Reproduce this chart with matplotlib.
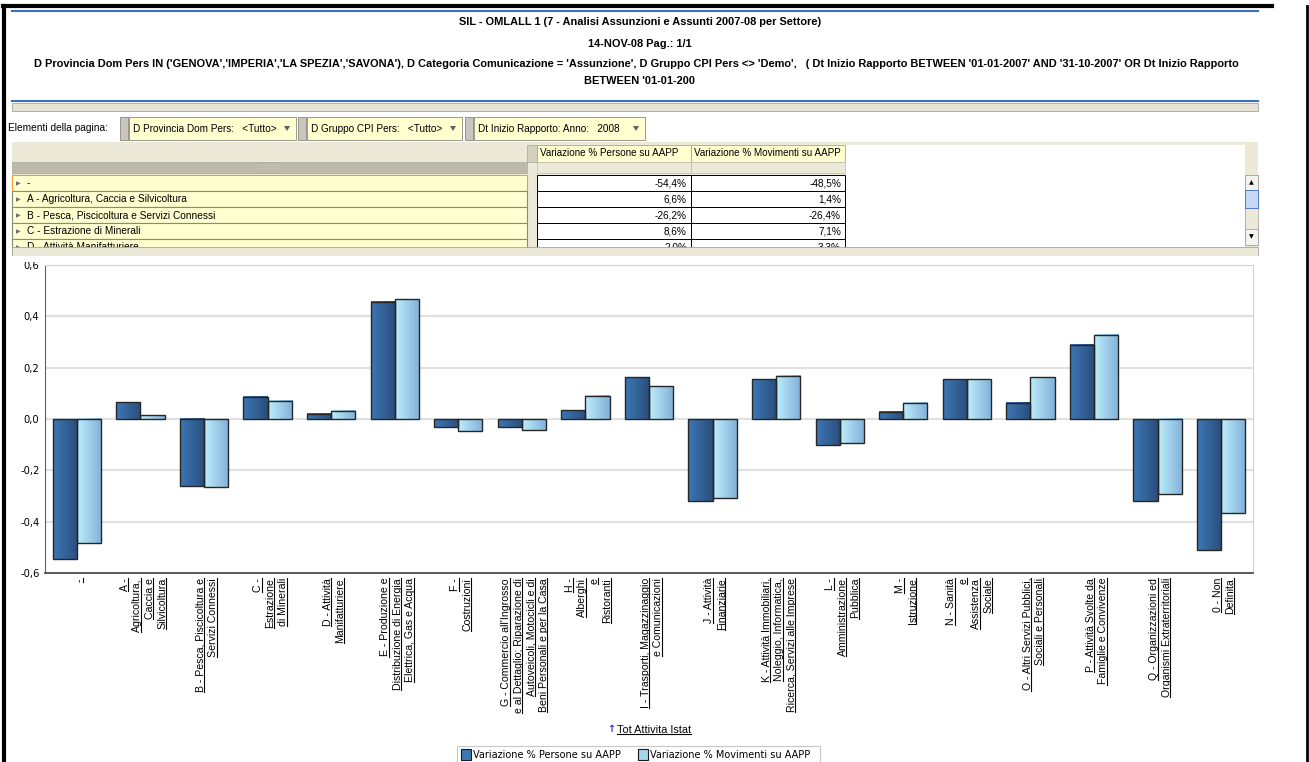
import matplotlib
matplotlib.use("Agg")
import matplotlib.pyplot as plt
import numpy as np
from matplotlib.patches import Rectangle, Polygon
from matplotlib.lines import Line2D
from matplotlib import transforms

# data
categories = [
    "-",
    "A -\nAgricoltura,\nCaccia e\nSilvicoltura",
    "B - Pesca, Piscicoltura e\nServizi Connessi",
    "C -\nEstrazione\ndi Minerali",
    "D - Attività\nManifatturiere",
    "E - Produzione e\nDistribuzione di Energia\nElettrica, Gas e Acqua",
    "F -\nCostruzioni",
    "G - Commercio all'Ingrosso\ne al Dettaglio; Riparazione di\nAutoveicoli, Motocicli e di\nBeni Personali e per la Casa",
    "H -\nAlberghi\ne\nRistoranti",
    "I - Trasporti, Magazzinaggio\ne Comunicazioni",
    "J - Attività\nFinanziarie",
    "K - Attività Immobiliari,\nNoleggio, Informatica,\nRicerca, Servizi alle Imprese",
    "L -\nAmministrazione\nPubblica",
    "M -\nIstruzione",
    "N - Sanità\ne\nAssistenza\nSociale",
    "O - Altri Servizi Pubblici,\nSociali e Personali",
    "P - Attività Svolte da\nFamiglie e Convivenze",
    "Q - Organizzazioni ed\nOrganismi Extraterritoriali",
    "0 - Non\nDefinita",
]
persone = [-0.544, 0.066, -0.262, 0.086, 0.020, 0.456, -0.031, -0.031, 0.035, 0.163,
           -0.319, 0.155, -0.101, 0.028, 0.155, 0.063, 0.289, -0.319, -0.510]
movimenti = [-0.485, 0.014, -0.264, 0.071, 0.033, 0.466, -0.045, -0.042, 0.091, 0.128,
             -0.307, 0.168, -0.093, 0.063, 0.155, 0.163, 0.328, -0.294, -0.365]
series_names = ["Variazione % Persone su AAPP", "Variazione % Movimenti su AAPP"]
table_rows = ["-", "A - Agricoltura, Caccia e Silvicoltura", "B - Pesca, Piscicoltura e Servizi Connessi",
              "C - Estrazione di Minerali", "D - Attività Manifatturiere"]
yticks = [-0.6, -0.4, -0.2, 0.0, 0.2, 0.4, 0.6]

W, H = 1309, 762
fig = plt.figure(figsize=(W / 100, H / 100), dpi=100)
fig.patch.set_facecolor("white")


def fx(x):
    return x / W


def fy(y):
    return 1 - y / H


def rect(x0, y0, x1, y1, fc, ec="none", lw=0.8, z=1):
    fig.add_artist(Rectangle((fx(x0), fy(y1)), (x1 - x0) / W, (y1 - y0) / H,
                             transform=fig.transFigure, fc=fc, ec=ec, lw=lw, zorder=z))


def line(x0, y0, x1, y1, c, lw=1, z=2):
    fig.add_artist(Line2D([fx(x0), fx(x1)], [fy(y0), fy(y1)], transform=fig.transFigure,
                          color=c, lw=lw, zorder=z))


def txt(x, y, s, **kw):
    kw.setdefault("family", "Liberation Sans")
    return fig.text(fx(x), fy(y), s, **kw)


# outer frame
line(3, 6, 1272, 6, "black", lw=3, z=5)
line(4, 6, 4, 762, "black", lw=3, z=5)
line(1307, 6, 1307, 762, "black", lw=2, z=5)

# report header
line(12, 11, 1258, 11, "#3a6fc4", lw=1.5)
hdr = dict(ha="center", va="center", fontsize=7.9, weight="bold")
txt(640, 22, "SIL - OMLALL 1 (7 - Analisi Assunzioni e Assunti 2007-08 per Settore)", **hdr)
txt(640, 44, "14-NOV-08 Pag.: 1/1", **hdr)
txt(636, 64, "D Provincia Dom Pers IN ('GENOVA','IMPERIA','LA SPEZIA','SAVONA'), D Categoria Comunicazione = "
    "'Assunzione', D Gruppo CPI Pers <> 'Demo',   ( Dt Inizio Rapporto BETWEEN '01-01-2007' AND "
    "'31-10-2007' OR Dt Inizio Rapporto", **hdr)
txt(640, 81, "BETWEEN '01-01-200", **hdr)
line(12, 101, 1258, 101, "#3a6fc4", lw=1.5)
rect(12, 103, 1258, 111, "#e6e3d6", ec="#a8a698", lw=0.6)

# page elements bar
txt(8, 128, "Elementi della pagina:", ha="left", va="center", fontsize=7.3)
for hx, x0, x1, label in [(120, 129, 296, "D Provincia Dom Pers:   <Tutto>"),
                          (298, 307, 462, "D Gruppo CPI Pers:   <Tutto>"),
                          (465, 474, 645, "Dt Inizio Rapporto: Anno:   2008")]:
    rect(hx, 117, hx + 8, 140, "#c8c6bc", ec="#8a8880", lw=0.6, z=2)
    rect(x0, 117, x1, 140, "#ffffd0", ec="#8a8880", lw=0.6, z=2)
    txt(x0 + 4, 128.5, label, ha="left", va="center", fontsize=7.2, zorder=3)
    fig.add_artist(Polygon([[fx(x1 - 12), fy(126)], [fx(x1 - 6), fy(126)], [fx(x1 - 9), fy(131)]],
                           closed=True, transform=fig.transFigure, fc="#606060", ec="none", zorder=3))

# pivot table
rect(12, 142, 1258, 248, "#ece9d8", z=1)
rect(845, 145, 1245, 247, "white", z=2)
rect(527, 145, 537, 162, "#d4d0c0", ec="#a8a698", lw=0.5, z=2)
for i, name in enumerate(series_names):
    x0 = 537 + i * 154
    rect(x0, 145, x0 + 154, 162, "#ffffd0", ec="#a8a698", lw=0.6, z=2)
    txt(x0 + 3, 153.5, name, ha="left", va="center", fontsize=7.1, zorder=3)
    rect(x0, 162, x0 + 154, 173, "#ece9d8", ec="#c0bdb0", lw=0.5, z=2)
rect(12, 162, 527, 173, "#bdbaaa", ec="#a8a698", lw=0.5, z=2)
txt(270, 167.5, "::::::::::", ha="center", va="center", fontsize=5, color="#e0e0e0", zorder=3)
row_y = [175, 191, 207, 223, 239]
for i, name in enumerate(table_rows):
    y0 = row_y[i]
    y1 = y0 + 16
    ec = "#f0a020" if i == 0 else "#8a8880"
    rect(12, y0, 527, y1, "#ffffd0", ec=ec, lw=0.8, z=2)
    txt(16, y0 + 8.5, "▶", ha="left", va="center", fontsize=4.5, color="#707070", family="DejaVu Sans", zorder=3)
    txt(27, y0 + 8.5, name, ha="left", va="center", fontsize=7.3, zorder=3)
    for j, vals in enumerate([persone, movimenti]):
        x0 = 537 + j * 154
        rect(x0, y0, x0 + 154, y1, "white", ec="black", lw=0.7, z=2)
        s = f"{vals[i] * 100:.1f}%".replace(".", ",")
        txt(x0 + 150, y0 + 8.5, s, ha="right", va="center", fontsize=7.2, zorder=3)
rect(12, 247, 1258, 256, "#ece9d8", ec="#a8a698", lw=0.6, z=4)
rect(0, 256, 1300, 262, "white", z=4)
# scrollbar
rect(1245, 175, 1258, 245, "#ece9d8", ec="#9a9a9a", lw=0.5, z=3)
rect(1245, 175, 1258, 190, "#f4f3ee", ec="#9a9a9a", lw=0.5, z=3)
rect(1245, 190, 1258, 208, "#c6d8f4", ec="#3a6fc4", lw=0.6, z=3)
rect(1245, 229, 1258, 245, "#f4f3ee", ec="#9a9a9a", lw=0.5, z=3)
txt(1251.5, 182.5, "▲", ha="center", va="center", fontsize=4.5, family="DejaVu Sans", zorder=4)
txt(1251.5, 237, "▼", ha="center", va="center", fontsize=4.5, family="DejaVu Sans", zorder=4)

# chart
ax = fig.add_axes([fx(45), fy(573), (1253 - 45) / W, (573 - 265) / H])
n = len(categories)
x = np.arange(n)
w = 0.38
grads = [("#3d78b5", "#2a4d7c"), ("#bdeefb", "#82b0da")]
for k, vals in enumerate([persone, movimenti]):
    bars = ax.bar(x + (k - 0.5) * w, vals, w, fill=False, edgecolor="#262626", lw=1.0, zorder=4)
    c0 = np.array(matplotlib.colors.to_rgb(grads[k][0]))
    c1 = np.array(matplotlib.colors.to_rgb(grads[k][1]))
    t = np.linspace(0, 1, 64)[None, :, None]
    img = c0 * (1 - t) + c1 * t
    for b in bars:
        x0, x1 = b.get_x(), b.get_x() + b.get_width()
        y0, y1 = b.get_y(), b.get_y() + b.get_height()
        ax.imshow(img, extent=[x0, x1, min(y0, y1), max(y0, y1)], aspect="auto",
                  interpolation="bilinear", zorder=3)
ax.set_xlim(-0.5, n - 0.5)
ax.set_ylim(-0.6, 0.6)
ax.set_yticks(yticks)
ax.set_yticklabels([f"{v:.1f}".replace(".", ",") for v in yticks], family="DejaVu Sans", fontsize=7.2)
ax.tick_params(axis="y", length=0, pad=4)
ax.set_xticks([])
ax.yaxis.grid(True, color="#e0e0e0", lw=1.5, zorder=0)
ax.set_axisbelow(True)
ax.spines["left"].set_color("#606060")
ax.spines["bottom"].set_color("#404040")
ax.spines["bottom"].set_linewidth(1.2)
for s in ["top", "right"]:
    ax.spines[s].set_color("#d4d4d4")

# rotated, underlined category labels
label_texts = []
step = 12.5
for i, lab in enumerate(categories):
    lines = lab.split("\n")
    m = len(lines)
    for j, ln in enumerate(lines):
        dx = (j - (m - 1) / 2) * step + 3
        tr = transforms.blended_transform_factory(ax.transData, ax.transAxes) + \
            transforms.ScaledTranslation(dx / 100, -5 / 100, fig.dpi_scale_trans)
        t = ax.text(i, 0, ln, transform=tr, rotation=90, ha="center", va="top",
                    fontsize=7.6, family="Liberation Sans", clip_on=False)
        label_texts.append(t)

tot = txt(617, 730, "Tot Attivita Istat", ha="left", va="center", fontsize=7.8)
txt(611, 729, "↑", ha="center", va="center", fontsize=7, color="#1a3fc8", family="DejaVu Sans", weight="bold")

# legend
rect(457, 746, 820, 763, "white", ec="#c8c8c8", lw=0.8, z=2)
legend_x = [461, 638]
for k, name in enumerate(series_names):
    lx = legend_x[k]
    rect(lx, 749, lx + 10, 760, grads[k][0] if k == 0 else "#a6d6f0", ec="#1a1a1a", lw=0.8, z=3)
    txt(lx + 12, 754.5, name, ha="left", va="center", fontsize=7.0, family="DejaVu Sans", zorder=3)

fig.canvas.draw()
r = fig.canvas.get_renderer()
for t in label_texts:
    bb = t.get_window_extent(r)
    xx = bb.x1 - 1.5
    fig.add_artist(Line2D([xx / W, xx / W], [bb.y0 / H, bb.y1 / H], transform=fig.transFigure,
                          color="black", lw=0.8))
bb = tot.get_window_extent(r)
fig.add_artist(Line2D([bb.x0 / W, bb.x1 / W], [(bb.y0 + 1.5) / H] * 2, transform=fig.transFigure,
                      color="black", lw=0.8))

fig.savefig("out.png", dpi=100)
